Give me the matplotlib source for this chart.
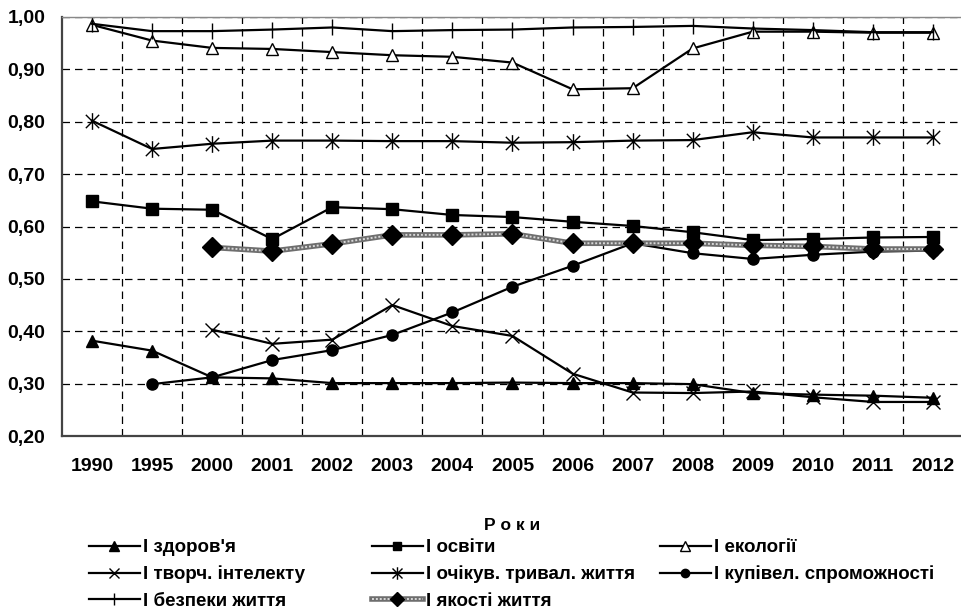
import matplotlib.pyplot as plt
from matplotlib.path import Path
from matplotlib.ticker import FuncFormatter, FixedLocator

plt.rcParams['font.family'] = ['Liberation Sans', 'DejaVu Sans']
plt.rcParams['font.weight'] = 'bold'

years = ['1990', '1995', '2000', '2001', '2002', '2003', '2004', '2005',
         '2006', '2007', '2008', '2009', '2010', '2011', '2012']

i_health = [0.382, 0.363, 0.312, 0.310, 0.301, 0.301, 0.301, 0.302,
            0.301, 0.301, 0.299, 0.282, 0.279, 0.277, 0.273]
i_educ = [0.648, 0.634, 0.632, 0.576, 0.637, 0.633, 0.622, 0.618,
          0.609, 0.601, 0.589, 0.574, 0.576, 0.579, 0.580]
i_ecol = [0.985, 0.955, 0.941, 0.939, 0.933, 0.927, 0.924, 0.913,
          0.862, 0.864, 0.940, 0.972, 0.972, 0.970, 0.970]
i_creat = [None, None, 0.403, 0.376, 0.384, 0.450, 0.410, 0.391,
           0.319, 0.283, 0.282, 0.285, 0.274, 0.265, 0.265]
i_life = [0.802, 0.748, 0.758, 0.764, 0.764, 0.763, 0.763, 0.760,
          0.761, 0.764, 0.765, 0.780, 0.770, 0.770, 0.770]
i_buy = [None, 0.299, 0.312, 0.345, 0.364, 0.393, 0.436, 0.485,
         0.525, 0.568, 0.549, 0.538, 0.546, 0.552, 0.554]
i_safe = [0.987, 0.973, 0.973, 0.976, 0.980, 0.973, 0.975, 0.976,
          0.980, 0.981, 0.983, 0.978, 0.975, 0.971, 0.971]
i_quality = [None, None, 0.560, 0.553, 0.567, 0.584, 0.584, 0.586,
             0.568, 0.568, 0.568, 0.564, 0.562, 0.557, 0.557]

labels = ["І здоров'я", "І освіти", "І екології", "І творч. інтелекту",
          "І очікув. тривал. життя", "І купівел. спроможності",
          "І безпеки життя", "І якості життя"]


def xy(vals):
    pts = [(i, v) for i, v in enumerate(vals) if v is not None]
    return [p[0] for p in pts], [p[1] for p in pts]


# asterisk marker: X with a vertical bar
star = Path([(0, -1), (0, 1), (-0.8, -0.8), (0.8, 0.8), (-0.8, 0.8), (0.8, -0.8)],
            [Path.MOVETO, Path.LINETO, Path.MOVETO, Path.LINETO, Path.MOVETO, Path.LINETO])

fig = plt.figure(figsize=(9.62, 6.12), dpi=100)
ax = fig.add_axes([62 / 962, 1 - 436 / 612, 901 / 962, (436 - 17) / 612])

lw = 1.6
h_health, = ax.plot(*xy(i_health), color='k', lw=lw, marker='^', ms=9)
h_educ, = ax.plot(*xy(i_educ), color='k', lw=lw, marker='s', ms=8)
h_ecol, = ax.plot(*xy(i_ecol), color='k', lw=lw, marker='^', ms=9,
                  mfc='white', mew=1)
h_creat, = ax.plot(*xy(i_creat), color='k', lw=lw, marker='x', ms=10, mew=1)
h_life, = ax.plot(*xy(i_life), color='k', lw=lw, marker=star, ms=12, mew=1)
h_buy, = ax.plot(*xy(i_buy), color='k', lw=lw, marker='o', ms=8)
h_safe, = ax.plot(*xy(i_safe), color='k', lw=lw, marker='|', ms=12, mew=1)
q1, = ax.plot(*xy(i_quality), color='#6e6e6e', lw=4)
q2, = ax.plot(*xy(i_quality), color='#d8d8d8', lw=1.4, ls=(0, (1, 1)))
q3, = ax.plot(*xy(i_quality), color='k', lw=0, marker='D', ms=10)

ax.set_xlim(-0.5, len(years) - 0.5)
ax.set_ylim(0.2, 1.0)
ax.set_xticks(range(len(years)))
ax.set_xticklabels(years)
ax.set_yticks([0.2, 0.3, 0.4, 0.5, 0.6, 0.7, 0.8, 0.9, 1.0])
ax.yaxis.set_major_formatter(FuncFormatter(lambda v, p: f'{v:.2f}'.replace('.', ',')))
ax.tick_params(axis='both', length=0, labelsize=14)
ax.tick_params(axis='x', pad=16)
ax.tick_params(axis='y', pad=12)

ax.xaxis.set_minor_locator(FixedLocator([i + 0.5 for i in range(len(years) - 1)]))
ax.tick_params(axis='x', which='minor', length=0)
ax.grid(True, which='minor', axis='x', color='k', lw=0.9, ls=(0, (6, 4)))
ax.grid(True, which='major', axis='y', color='k', lw=0.9, ls=(0, (6, 4)))
ax.set_axisbelow(True)

for s in ['left', 'bottom']:
    ax.spines[s].set_color('#444444')
    ax.spines[s].set_linewidth(1.6)
ax.spines['top'].set_color('#888888')
ax.spines['top'].set_linewidth(1)
ax.spines['right'].set_visible(False)

fig.text(512 / 962, 1 - 525 / 612, 'Р о к и', ha='center', va='center',
         fontsize=12.5, fontweight='bold')

cols = [
    ([h_health, h_creat, h_safe], [labels[0], labels[3], labels[6]], 89),
    ([h_educ, h_life, (q1, q2, q3)], [labels[1], labels[4], labels[7]], 372),
    ([h_ecol, h_buy], [labels[2], labels[5]], 660),
]
for hs, ls, x0 in cols:
    fig.legend(hs, ls, loc='upper left', bbox_to_anchor=(x0 / 962, 1 - 539 / 612),
               frameon=False, prop={'size': 13.5, 'weight': 'bold'}, handlelength=2.7,
               handletextpad=0.2, labelspacing=0.5, borderpad=0, borderaxespad=0,
               markerscale=0.75)

fig.savefig('out.png', dpi=100)
